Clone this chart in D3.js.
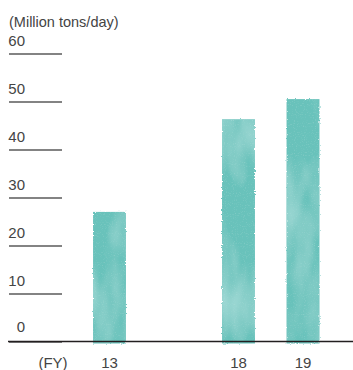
<!DOCTYPE html>
<html>
<head>
<meta charset="utf-8">
<script src="https://cdn.jsdelivr.net/npm/d3@7"></script>
<style>
  html, body { margin: 0; padding: 0; background: #fff; }
  svg { display: block; }
  text { font-family: "Liberation Sans", Arial, sans-serif; fill: #444; }
</style>
</head>
<body>
<div id="chart"></div>
<script>
// Fiscal-year categories (the blank slot is a visual gap between 13 and 18)
const years = ["13", "gap", "18", "19"];
const fyLabels = ["13", "", "18", "19"];
const volumes = [27, 46.3, 50.5];          // million tons/day
const barYears = ["13", "18", "19"];
const yTicks = [0, 10, 20, 30, 40, 50, 60];
const unitLabel = "(Million tons/day)";
const axisLabel = "(FY)";

const W = 353, H = 370;
const svg = d3.select("#chart").append("svg")
  .attr("width", W).attr("height", H);

// Watercolour texture for bars: ragged edges plus soft darker washes
const defs = svg.append("defs");
const f = defs.append("filter").attr("id", "wash")
  .attr("x", "-10%").attr("y", "-3%").attr("width", "120%").attr("height", "106%");
f.append("feTurbulence").attr("type", "fractalNoise").attr("baseFrequency", "0.7")
  .attr("numOctaves", 2).attr("seed", 3).attr("result", "fine");
f.append("feDisplacementMap").attr("in", "SourceGraphic").attr("in2", "fine")
  .attr("scale", 2.6).attr("xChannelSelector", "R").attr("yChannelSelector", "G")
  .attr("result", "rough");
f.append("feTurbulence").attr("type", "fractalNoise").attr("baseFrequency", "0.035 0.012")
  .attr("numOctaves", 3).attr("seed", 11).attr("result", "blot");
f.append("feColorMatrix").attr("in", "blot").attr("type", "matrix")
  .attr("values", "0 0 0 0 0.33  0 0 0 0 0.68  0 0 0 0 0.65  2.2 0 0 0 -0.9")
  .attr("result", "shade");
f.append("feComposite").attr("in", "shade").attr("in2", "rough")
  .attr("operator", "in").attr("result", "shadeClip");
f.append("feTurbulence").attr("type", "fractalNoise").attr("baseFrequency", "0.9")
  .attr("numOctaves", 1).attr("seed", 5).attr("result", "grain");
f.append("feColorMatrix").attr("in", "grain").attr("type", "matrix")
  .attr("values", "0 0 0 0 0.52  0 0 0 0 0.82  0 0 0 0 0.79  0.8 0 0 0 -0.45")
  .attr("result", "grainC");
f.append("feComposite").attr("in", "grainC").attr("in2", "rough")
  .attr("operator", "in").attr("result", "grainClip");
const m = f.append("feMerge");
m.append("feMergeNode").attr("in", "rough");
m.append("feMergeNode").attr("in", "shadeClip");
m.append("feMergeNode").attr("in", "grainClip");

const y = d3.scaleLinear().domain([0, 60]).range([341.5, 53.5]);
const x = d3.scaleBand().domain(years).range([77.25, 335.25])
  .paddingInner(0.49).paddingOuter(0.245);

// Unit label
svg.append("text").attr("x", 9).attr("y", 27)
  .style("font-size", "14.5px").text(unitLabel);

// Short gridlines with values sitting above them
const yAxis = d3.axisRight(y).tickValues(yTicks).tickSize(53).tickFormat(d3.format("d"));
const gy = svg.append("g").attr("transform", "translate(9,0)").call(yAxis);
gy.select(".domain").remove();
gy.selectAll(".tick line").attr("stroke", "#5a5a5a").attr("stroke-width", 1.3);
gy.selectAll(".tick text")
  .attr("x", 16).attr("dy", d => d === 0 ? -10.5 : -8)
  .attr("text-anchor", "end")
  .style("font-size", "15px").attr("fill", "#444");

// Bars
svg.append("g").selectAll("rect").data(volumes).join("rect")
  .attr("x", (d, i) => x(barYears[i]))
  .attr("y", d => y(d))
  .attr("width", x.bandwidth())
  .attr("height", d => y(0) - y(d) + 2)
  .attr("fill", "#69c2bb")
  .attr("filter", "url(#wash)");

// Baseline
svg.append("line").attr("x1", 8).attr("x2", W).attr("y1", y(0)).attr("y2", y(0))
  .attr("stroke", "#231f20").attr("stroke-width", 1.3);

// Fiscal-year axis labels
const xAxis = d3.axisBottom(x).tickSize(0).tickFormat((d, i) => fyLabels[i]);
const gx = svg.append("g").attr("transform", `translate(0,${y(0)})`).call(xAxis);
gx.select(".domain").remove();
gx.selectAll(".tick text").attr("y", 26.5).attr("dy", 0)
  .style("font-size", "15px").attr("fill", "#444");
svg.append("text").attr("x", 53).attr("y", 368).attr("text-anchor", "middle")
  .style("font-size", "15px").text(axisLabel);
</script>
</body>
</html>
